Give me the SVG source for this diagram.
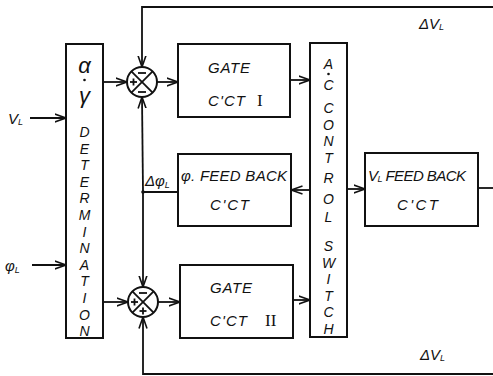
<svg xmlns="http://www.w3.org/2000/svg" width="493" height="376" viewBox="0 0 493 376">
<style>
.b{fill:none;stroke:#111;stroke-width:2}
.l{fill:none;stroke:#111;stroke-width:1.8}
.t{font-family:"Liberation Sans",Arial,sans-serif;font-style:italic;font-size:15px;fill:#111;letter-spacing:1px}
.v{font-family:"Liberation Sans",Arial,sans-serif;font-style:italic;font-size:14px;fill:#111;text-anchor:middle}
.g{font-size:22px}
.r{font-family:"Liberation Serif","Times New Roman",serif;font-size:17px;fill:#111}
</style>
<defs>
<marker id="a" viewBox="0 0 12 10" refX="11.5" refY="5" markerWidth="12" markerHeight="10" markerUnits="userSpaceOnUse" orient="auto">
<path d="M0,1 L11.5,5 L0,9" fill="none" stroke="#111" stroke-width="1.6"/>
</marker>
</defs>
<rect width="493" height="376" fill="#fff"/>

<g id="connectors">
<line class="l" x1="30" y1="118" x2="66" y2="118" marker-end="url(#a)"/>
<line class="l" x1="32" y1="265" x2="66" y2="265" marker-end="url(#a)"/>
<line class="l" x1="103" y1="82" x2="127" y2="82" marker-end="url(#a)"/>
<line class="l" x1="103" y1="302" x2="128" y2="302" marker-end="url(#a)"/>
<line class="l" x1="157" y1="82" x2="178" y2="82" marker-end="url(#a)"/>
<line class="l" x1="158" y1="302" x2="180" y2="302" marker-end="url(#a)"/>
<line class="l" x1="290" y1="80" x2="310" y2="80" marker-end="url(#a)"/>
<line class="l" x1="293" y1="300" x2="310" y2="300" marker-end="url(#a)"/>
<line class="l" x1="310" y1="190" x2="291" y2="190" marker-end="url(#a)"/>
<line class="l" x1="347" y1="189" x2="365" y2="189" marker-end="url(#a)"/>
<line class="l" x1="478" y1="188" x2="493" y2="188"/>
<polyline class="l" points="493,7 142,7 142,67" marker-end="url(#a)"/>
<polyline class="l" points="493,374 143,374 143,317" marker-end="url(#a)"/>
<line class="l" x1="143" y1="192" x2="142" y2="97" marker-end="url(#a)"/>
<line class="l" x1="143" y1="192" x2="143" y2="287" marker-end="url(#a)"/>
<line class="l" x1="178" y1="192" x2="143" y2="192"/>
<circle cx="143" cy="192" r="1.8" fill="#111"/>
<text class="t" x="145" y="186" style="letter-spacing:0">Δφ<tspan font-size="9" dy="2">L</tspan></text>
<text class="t" x="419" y="29" style="letter-spacing:0">ΔV<tspan font-size="9" dy="1">L</tspan></text>
<text class="t" x="420" y="360" style="letter-spacing:0">ΔV<tspan font-size="9" dy="1">L</tspan></text>
<text class="t" x="8" y="124" style="letter-spacing:0">V<tspan font-size="9" dy="1">L</tspan></text>
<text class="t" x="5" y="271" style="letter-spacing:0">φ<tspan font-size="9" dy="2">L</tspan></text>
</g>

<g id="determination">
<rect class="b" x="66" y="44" width="37" height="294"/>
<text class="v g" x="84.5" y="73">α</text>
<circle cx="84.5" cy="80" r="1.3" fill="#111"/>
<text class="v g" x="84.5" y="103">γ</text>
<text class="v" x="84.5" y="137">D</text>
<text class="v" x="84.5" y="153.6">E</text>
<text class="v" x="84.5" y="170.2">T</text>
<text class="v" x="84.5" y="186.8">E</text>
<text class="v" x="84.5" y="203.4">R</text>
<text class="v" x="84.5" y="220">M</text>
<text class="v" x="84.5" y="236.6">I</text>
<text class="v" x="84.5" y="253.2">N</text>
<text class="v" x="84.5" y="269.8">A</text>
<text class="v" x="84.5" y="286.4">T</text>
<text class="v" x="84.5" y="303">I</text>
<text class="v" x="84.5" y="319.6">O</text>
<text class="v" x="84.5" y="336.2">N</text>
</g>

<g id="sum1">
<circle class="b" cx="142" cy="82" r="15"/>
<line class="l" x1="131.4" y1="71.4" x2="152.6" y2="92.6"/>
<line class="l" x1="152.6" y1="71.4" x2="131.4" y2="92.6"/>
<line class="l" x1="138" y1="73" x2="146" y2="73" stroke-width="1.5"/>
<line class="l" x1="138" y1="92" x2="146" y2="92" stroke-width="1.5"/>
<line class="l" x1="130" y1="82" x2="137" y2="82" stroke-width="1.5"/>
<line class="l" x1="133.5" y1="78.5" x2="133.5" y2="85.5" stroke-width="1.5"/>
</g>

<g id="sum2">
<circle class="b" cx="143" cy="302" r="15"/>
<line class="l" x1="132.4" y1="291.4" x2="153.6" y2="312.6"/>
<line class="l" x1="153.6" y1="291.4" x2="132.4" y2="312.6"/>
<line class="l" x1="139" y1="293" x2="147" y2="293" stroke-width="1.5"/>
<line class="l" x1="131" y1="302" x2="138" y2="302" stroke-width="1.5"/>
<line class="l" x1="134.5" y1="298.5" x2="134.5" y2="305.5" stroke-width="1.5"/>
<line class="l" x1="139.5" y1="311" x2="146.5" y2="311" stroke-width="1.5"/>
<line class="l" x1="143" y1="307.5" x2="143" y2="314.5" stroke-width="1.5"/>
</g>

<g id="gate1">
<rect class="b" x="178" y="44" width="112" height="73"/>
<text class="t" x="208" y="73" textLength="43">GATE</text>
<text class="t" x="208" y="106" textLength="38">C'CT</text>
<text class="r" x="257" y="106">I</text>
</g>

<g id="phifb">
<rect class="b" x="178" y="154" width="113" height="72"/>
<text class="t" x="181" y="181" textLength="106" style="letter-spacing:0">φ. FEED BACK</text>
<text class="t" x="210" y="210" textLength="40">C'CT</text>
</g>

<g id="gate2">
<rect class="b" x="180" y="265" width="113" height="73"/>
<text class="t" x="210" y="293" textLength="43">GATE</text>
<text class="t" x="210" y="326" textLength="38">C'CT</text>
<text class="r" x="265" y="326">II</text>
</g>

<g id="switch">
<rect class="b" x="310" y="43" width="37" height="294"/>
<text class="v" x="328.5" y="69">A</text>
<circle cx="328.5" cy="74" r="1.3" fill="#111"/>
<text class="v" x="328.5" y="90">C</text>
<text class="v" x="328.5" y="113">C</text>
<text class="v" x="328.5" y="129.5">O</text>
<text class="v" x="328.5" y="146">N</text>
<text class="v" x="328.5" y="162.5">T</text>
<text class="v" x="328.5" y="183">R</text>
<text class="v" x="328.5" y="204">O</text>
<text class="v" x="328.5" y="222">L</text>
<text class="v" x="328.5" y="251">S</text>
<text class="v" x="328.5" y="267.5">W</text>
<text class="v" x="328.5" y="284">I</text>
<text class="v" x="328.5" y="300.5">T</text>
<text class="v" x="328.5" y="317">C</text>
<text class="v" x="328.5" y="333.5">H</text>
</g>

<g id="vlfb">
<rect class="b" x="365" y="153" width="113" height="73"/>
<text class="t" x="368" y="181" textLength="98" style="letter-spacing:0">V<tspan font-size="9" dy="1">L</tspan><tspan dy="-1"> FEED BACK</tspan></text>
<text class="t" x="397" y="210" textLength="42">C'CT</text>
</g>
</svg>
